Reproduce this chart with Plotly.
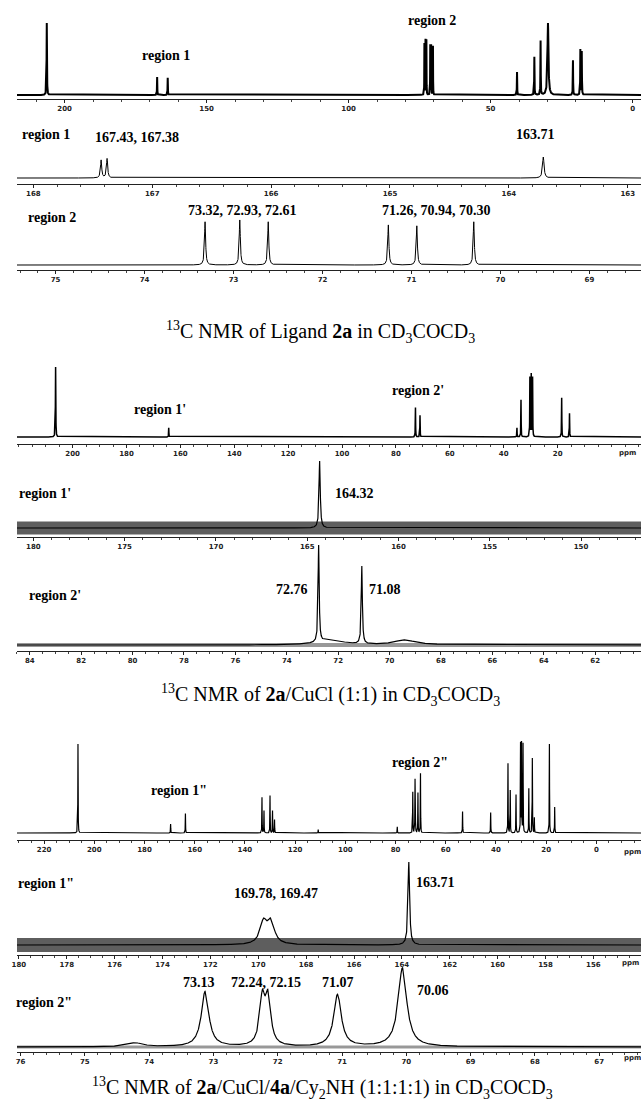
import numpy as np
import plotly.graph_objects as go

W, H = 641, 1114

# ---------------- DATA ----------------
# Spectrum 1: ligand 2a, full range
s1_ppm = [206.3, 167.43, 163.71, 73.32, 72.93, 72.61, 71.26, 70.94, 70.30, 40.7, 34.6, 32.4, 29.8, 21.0, 18.4, 17.9]
s1_int = [1.00, 0.25, 0.24, 0.71, 0.76, 0.76, 0.69, 0.69, 0.68, 0.32, 0.53, 0.75, 1.00, 0.48, 0.63, 0.60]
s1_fwhm = [0.15, 0.12, 0.12, 0.08, 0.08, 0.08, 0.08, 0.08, 0.08, 0.12, 0.12, 0.12, 0.4, 0.12, 0.12, 0.12]
s1_ticks = [200, 150, 100, 50, 0]

# Spectrum 2: ligand 2a, region 1
s2_ppm = [167.43, 167.38, 163.71]
s2_int = [0.85, 0.92, 1.00]
s2_fwhm = [0.012, 0.012, 0.015]
s2_ticks = [168, 167, 166, 165, 164, 163]

# Spectrum 3: ligand 2a, region 2
s3_ppm = [73.32, 72.93, 72.61, 71.26, 70.94, 70.30]
s3_int = [0.96, 1.00, 0.96, 0.89, 0.87, 0.96]
s3_fwhm = [0.015, 0.015, 0.015, 0.015, 0.015, 0.015]
s3_ticks = [75, 74, 73, 72, 71, 70, 69]

# Spectrum 4: 2a/CuCl (1:1), full range
s4_ppm = [206.3, 164.32, 72.76, 71.08, 35.1, 33.6, 30.3, 29.8, 29.3, 18.5, 15.6]
s4_int = [1.00, 0.13, 0.42, 0.31, 0.13, 0.53, 0.85, 0.89, 0.85, 0.56, 0.34]
s4_fwhm = [0.15, 0.12, 0.12, 0.12, 0.12, 0.12, 0.12, 0.12, 0.12, 0.12, 0.12]
s4_ticks = [200, 180, 160, 140, 120, 100, 80, 60, 40, 20]

# Spectrum 5: 2a/CuCl, region 1'
s5_ppm = [164.32]
s5_int = [1.00]
s5_fwhm = [0.08]
s5_ticks = [180, 175, 170, 165, 160, 155, 150]

# Spectrum 6: 2a/CuCl, region 2'
s6_ppm = [72.76, 71.08, 72.3, 69.4]
s6_int = [1.00, 0.80, 0.05, 0.05]
s6_fwhm = [0.05, 0.05, 1.2, 1.0]
s6_ticks = [84, 82, 80, 78, 76, 74, 72, 70, 68, 66, 64, 62]

# Spectrum 7: 2a/CuCl/4a/Cy2NH, full range
s7_ppm = [206.5, 169.6, 163.7, 133.2, 132.4, 130.0, 129.0, 128.2, 110.8, 79.3,
          73.13, 72.24, 72.15, 71.07, 70.06, 53.3, 42.1, 35.2, 34.3, 32.0,
          30.2, 29.8, 29.2, 26.9, 25.5, 24.7, 18.7, 16.6]
s7_int = [1.00, 0.10, 0.22, 0.40, 0.25, 0.42, 0.25, 0.15, 0.04, 0.07,
          0.46, 0.48, 0.40, 0.45, 0.67, 0.24, 0.23, 0.78, 0.48, 0.43,
          1.00, 1.00, 1.00, 0.50, 0.84, 0.17, 1.00, 0.29]
s7_fwhm = [0.12] * len(s7_ppm)
s7_ticks = [220, 200, 180, 160, 140, 120, 100, 80, 60, 40, 20, 0]

# Spectrum 8: region 1''
s8_ppm = [169.78, 169.47, 163.71]
s8_int = [0.26, 0.26, 1.00]
s8_fwhm = [0.35, 0.35, 0.08]
s8_ticks = [180, 178, 176, 174, 172, 170, 168, 166, 164, 162, 160, 158, 156]

# Spectrum 9: region 2''
s9_ppm = [74.22, 73.13, 72.24, 72.15, 71.07, 70.06]
s9_int = [0.05, 0.70, 0.58, 0.58, 0.66, 1.00]
s9_fwhm = [0.3, 0.14, 0.1, 0.1, 0.14, 0.16]
s9_ticks = [76, 75, 74, 73, 72, 71, 70, 69, 68, 67]

# ---------------- STYLE / LAYOUT ----------------
# cal = (ppm anchor, pixel anchor, px per ppm); vertical pixel positions
panels = [
    dict(ppm=s1_ppm, inten=s1_int, fwhm=s1_fwhm, ticks=s1_ticks, cal=(206.3, 42.1, 2.862),
         base=95, top=23, axis=99, minor=10, lw=2.0, noise=1.0),
    dict(ppm=s2_ppm, inten=s2_int, fwhm=s2_fwhm, ticks=s2_ticks, cal=(168, 28.6, 119.8),
         base=178, top=157, axis=184, minor=0.2, lw=1.0, noise=0.8),
    dict(ppm=s3_ppm, inten=s3_int, fwhm=s3_fwhm, ticks=s3_ticks, cal=(75, 51, 89.67),
         base=265, top=220, axis=270, minor=0.2, lw=1.0, noise=0.8),
    dict(ppm=s4_ppm, inten=s4_int, fwhm=s4_fwhm, ticks=s4_ticks, cal=(206.3, 51, 2.716),
         base=437, top=367, axis=444, minor=5, lw=1.5, noise=0.8),
    dict(ppm=s5_ppm, inten=s5_int, fwhm=s5_fwhm, ticks=s5_ticks, cal=(180, 28.6, 18.4),
         base=528, top=461, axis=537, minor=1, lw=1.2, noise=6.5),
    dict(ppm=s6_ppm, inten=s6_int, fwhm=s6_fwhm, ticks=s6_ticks, cal=(84, 25, 25.9),
         base=645, top=548, axis=651, minor=0.5, lw=1.2, noise=2.0),
    dict(ppm=s7_ppm, inten=s7_int, fwhm=s7_fwhm, ticks=s7_ticks, cal=(0, 596, 2.53),
         base=833, top=744, axis=840, minor=5, lw=1.2, noise=0.8),
    dict(ppm=s8_ppm, inten=s8_int, fwhm=s8_fwhm, ticks=s8_ticks, cal=(180, 14, 24.125),
         base=945, top=862, axis=955, minor=0.5, lw=1.2, noise=7.0),
    dict(ppm=s9_ppm, inten=s9_int, fwhm=s9_fwhm, ticks=s9_ticks, cal=(70.06, 400.6, 64.8),
         base=1047, top=968, axis=1052, minor=0.2, lw=1.2, noise=1.5),
]

X0_PX, X1_PX = 12, 641


def px2x(px):
    return px / W


def px2y(py):
    return 1 - py / H


def lorentz_sum(x, ppm, inten, fwhm):
    y = np.zeros_like(x)
    for p, a, w in zip(ppm, inten, fwhm):
        y += a / (1 + ((x - p) / (w / 2)) ** 2)
    return y


fig = go.Figure()
shapes = []
layout = {}
tickfont = dict(family="DejaVu Sans", size=7, color="#222", weight="bold")

for i, p in enumerate(panels, start=1):
    a_ppm, a_px, k = p["cal"]
    left = a_ppm - (X0_PX - a_px) / k
    right = a_ppm - (X1_PX - a_px) / k
    x = np.linspace(right, left, 8000)
    x = np.unique(np.concatenate([x, np.array(p["ppm"], dtype=float)]))
    y = lorentz_sum(x, p["ppm"], p["inten"], p["fwhm"])
    span = p["base"] - p["top"]
    ymin = -(p["axis"] - p["base"]) / span
    ymax = (span + 3) / span
    sfx = "" if i == 1 else str(i)
    fig.add_trace(go.Scatter(x=x, y=y, mode="lines", xaxis="x" + sfx, yaxis="y" + sfx,
                             line=dict(color="black", width=p["lw"]), hoverinfo="skip"))
    if p["noise"] > 1.2:
        a = p["noise"] / span
        shapes.append(dict(type="rect", xref="x" + sfx, yref="y" + sfx, x0=left, x1=right,
                           y0=-a, y1=a, fillcolor="#1a1a1a", opacity=0.7 if p["noise"] > 4 else 0.45,
                           line=dict(width=0), layer="below"))
    layout["xaxis" + sfx] = dict(
        domain=[px2x(X0_PX), 1], range=[left, right], anchor="y" + sfx,
        showline=True, linecolor="#222", linewidth=1, showgrid=False, zeroline=False,
        ticks="outside", ticklen=3, tickcolor="#222", tickwidth=1,
        tickvals=p["ticks"], ticktext=[str(t) for t in p["ticks"]], tickfont=tickfont,
        minor=dict(ticks="outside", ticklen=2, dtick=p["minor"], tickcolor="#444"),
    )
    layout["yaxis" + sfx] = dict(
        domain=[px2y(p["axis"]), px2y(p["top"] - 3)], range=[ymin, ymax], anchor="x" + sfx,
        visible=False, fixedrange=True,
    )

lab_font = dict(family="Liberation Serif", size=14, color="black", weight="bold")
cap_font = dict(family="Liberation Serif", size=20, color="black")

labels = [
    ("region 2", 430, 21), ("region 1", 162, 55),
    ("region 1", 41, 135), ("167.43, 167.38", 133, 137), ("163.71", 535, 135),
    ("region 2", 47, 218), ("73.32, 72.93, 72.61", 239, 210), ("71.26, 70.94, 70.30", 435, 210),
    ("region 2'", 416, 390), ("region 1'", 156, 410),
    ("region 1'", 40, 493), ("164.32", 352, 493),
    ("region 2'", 50, 595), ("72.76", 289, 589), ("71.08", 383, 589),
    ("region 2\"", 418, 762), ("region 1\"", 175, 790),
    ("region 1\"", 41, 883), ("163.71", 434, 882), ("169.78, 169.47", 273, 893),
    ("73.13", 196, 982), ("72.24, 72.15", 263, 982), ("71.07", 336, 982), ("70.06", 431, 990),
    ("region 2\"", 39, 1002),
]
annotations = []
for t, xp, yp in labels:
    annotations.append(dict(text=t, x=px2x(xp), y=px2y(yp), xref="paper", yref="paper",
                            showarrow=False, font=lab_font, xanchor="center", yanchor="middle"))

for xp, yp in [(627, 453), (632, 852), (630, 963), (632, 1058)]:
    annotations.append(dict(text="ppm", x=px2x(xp), y=px2y(yp), xref="paper", yref="paper",
                            showarrow=False, font=tickfont, xanchor="center", yanchor="middle"))

captions = [
    ("<sup>13</sup>C NMR of Ligand <b>2a</b> in CD<sub>3</sub>COCD<sub>3</sub>", 318, 332),
    ("<sup>13</sup>C NMR of <b>2a</b>/CuCl (1:1) in CD<sub>3</sub>COCD<sub>3</sub>", 328, 695),
    ("<sup>13</sup>C NMR of <b>2a</b>/CuCl/<b>4a</b>/Cy<sub>2</sub>NH (1:1:1:1) in CD<sub>3</sub>COCD<sub>3</sub>", 320, 1088),
]
for t, xp, yp in captions:
    annotations.append(dict(text=t, x=px2x(xp), y=px2y(yp), xref="paper", yref="paper",
                            showarrow=False, font=cap_font, xanchor="center", yanchor="middle"))

fig.update_layout(width=W, height=H, margin=dict(l=0, r=0, t=0, b=0),
                  paper_bgcolor="white", plot_bgcolor="white", showlegend=False,
                  annotations=annotations, shapes=shapes, **layout)

fig.write_html("out.html", config={"displayModeBar": False},
               post_script="document.body.style.margin='0';document.body.style.overflow='hidden';")
